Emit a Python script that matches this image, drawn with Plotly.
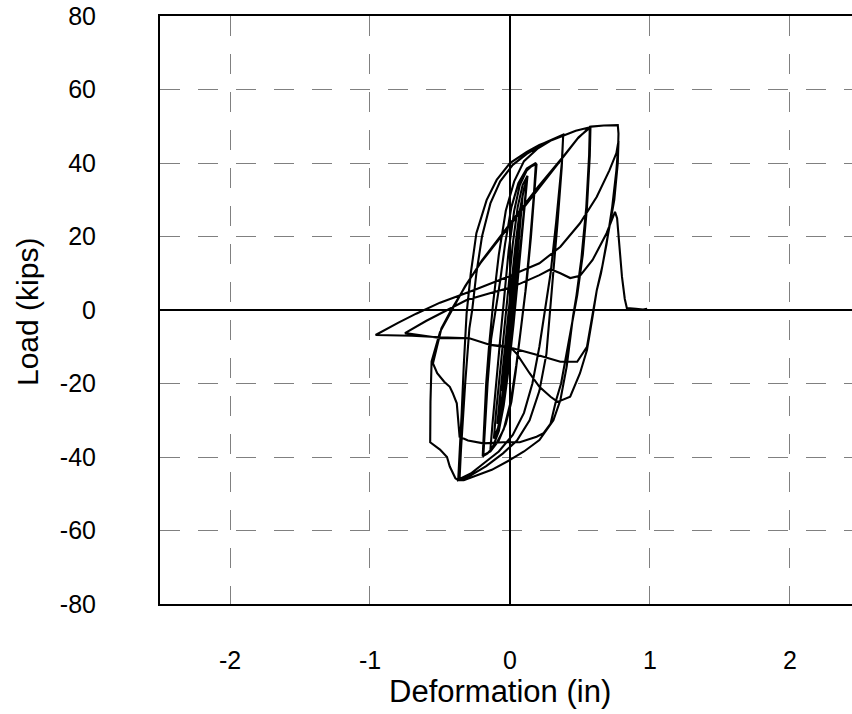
import plotly.graph_objects as go

# ---- data (deformation in inches, load in kips) ----
# A: small near-elastic cycles
A_defl = [0.000, 0.020, 0.040, 0.030, 0.010, -0.020, -0.030, -0.015, 0.010, 0.035, 0.055, 0.065,
          0.050, 0.025, -0.005, -0.035, -0.060, -0.050, -0.025, 0.005, 0.030, 0.055, 0.075, 0.090,
          0.075, 0.050, 0.020, -0.010, -0.040, -0.070, -0.090, -0.075, -0.050, -0.020, 0.010, 0.040,
          0.070, 0.100, 0.120, 0.105, 0.080, 0.050, 0.020, -0.015, -0.050, -0.085, -0.115, -0.100,
          -0.075, -0.045, -0.015, 0.020, 0.055, 0.090, 0.125, 0.110, 0.085, 0.055, 0.025, -0.010,
          -0.045, -0.080, -0.120, -0.140, -0.125, -0.100, -0.070, -0.040, -0.010, 0.030, 0.070,
          0.120, 0.150]
A_load = [0, 6, 12, 5, -3, -10, -12, -6, 2, 10, 18, 22,
          15, 5, -5, -14, -22, -17, -8, 3, 12, 22, 28, 31,
          24, 13, 0, -10, -20, -27, -31, -25, -15, -4, 7, 18,
          27, 33, 35.5, 29, 19, 8, -4, -15, -25, -32, -35, -28,
          -18, -6, 6, 18, 28, 34, 36.5, 30, 20, 8, -4, -16,
          -26, -33, -37, -38, -31, -20, -8, 4, 16, 27, 34,
          38, 39]

# B: +/-0.2 in cycles
B_defl = [0.190, 0.175, 0.150, 0.120, 0.090, 0.070, 0.040, 0.010, -0.030, -0.080, -0.140, -0.190,
          -0.178, -0.160, -0.135, -0.100, -0.070, -0.035, 0.010, 0.060, 0.120, 0.185, 0.170, 0.140,
          0.110, 0.075, 0.045, 0.005, -0.045, -0.100, -0.160, -0.195]
B_load = [39.8, 32, 20, 8, -2, -8, -17, -25, -31, -35.5, -38.5, -39.5,
          -32, -20, -8, 0, 8, 18, 28, 34.5, 38.5, 40, 31, 17,
          5, -6, -15, -25, -32.5, -36.5, -39, -39.8]

# C: +/-0.38 in cycles
C_defl = [-0.185, -0.170, -0.150, -0.120, -0.080, -0.030, 0.030, 0.100, 0.200, 0.300, 0.380,
          0.370, 0.330, 0.290, 0.250, 0.210, 0.160, 0.100, 0.020, -0.080, -0.180, -0.280, -0.360,
          -0.350, -0.320, -0.290, -0.270, -0.240, -0.200, -0.140, -0.070, 0.020, 0.120, 0.250, 0.380,
          0.370, 0.340, 0.310, 0.290, 0.260, 0.210, 0.140, 0.050, -0.050, -0.170, -0.280, -0.370]
C_load = [-32, -20, -10, 2, 15, 27, 35, 40.5, 44, 46.3, 47.5,
          40, 24, 10, 0, -10, -20, -28, -34, -38.5, -41.5, -44.5, -46,
          -38, -20, -5, 0, 10, 20, 29, 35, 39.5, 42.5, 45.5, 47.7,
          39, 24, 10, 0, -12, -22, -30, -35.5, -39, -42.5, -45, -46.3]

# D: 0.57 in cycles with fracture on the negative side
D1_defl = [-0.360, -0.345, -0.330, -0.310, -0.280, -0.240, -0.167, -0.095, 0.000, 0.120, 0.210,
           0.300, 0.380, 0.470, 0.570]
D1_load = [-40, -28, -15, -1, 10, 20.9, 29.9, 35.4, 40, 43, 44.9, 46.3, 47.6, 48.8, 49.7]
D2_defl = [0.565, 0.545, 0.510, 0.475, 0.450, 0.405, 0.360, 0.310, 0.210, 0.100, 0.000, -0.130,
           -0.260, -0.330, -0.370, -0.390, -0.430, -0.450, -0.500, -0.570, -0.568, -0.560]
D2_load = [42, 28, 14, 4, -1.8, -15.4, -24.5, -30, -35.4, -38.5, -40.8, -43.5,
           -45.4, -46.3, -46.3, -45.8, -42.6, -40, -38, -36, -25, -14]
D3_defl = [-0.500, -0.430, -0.320, -0.210, 0.000, 0.200, 0.380, 0.480, 0.575]
D3_load = [-6, -1, 6.5, 12.8, 23, 33, 41.6, 46.5, 50]
D4_defl = [0.570, 0.550, 0.520, 0.480, 0.440, 0.400, 0.365, 0.330, 0.290, 0.240, 0.190, 0.070,
           -0.050, -0.190, -0.300, -0.360, -0.370, -0.375, -0.380, -0.410, -0.430, -0.470, -0.520,
           -0.550]
D4_load = [42, 28, 15, 4, -4, -13, -20, -24.5, -30.9, -33.5, -34.5, -36,
           -36, -36.3, -35.5, -34.5, -30, -27, -25.4, -22.5, -20.9, -19.5, -17.2,
           -14.5]
D5_defl = [-0.490, -0.420, -0.310, -0.200, 0.000, 0.200, 0.390, 0.490, 0.580, 0.670, 0.770]
D5_load = [-5, 0, 7, 13.5, 23.5, 33.5, 42.2, 47, 49.9, 50.2, 50.3]

# E-H: pinched cycles after fracture, final failure
E_defl = [0.775, 0.772, 0.760, 0.730, 0.690, 0.650, 0.620, 0.590, 0.550, 0.500, 0.430, 0.340,
          0.290, 0.210, 0.140, 0.050, 0.000, -0.140, -0.290, -0.500, -0.700, -0.960]
E_load = [48, 44, 38, 28, 18, 10, 5.4, -1.8, -10.9, -17.2, -23.6, -25,
          -23.6, -20.9, -17.2, -12, -10, -9.5, -7.7, -7.4, -7.0, -6.8]
F_defl = [-0.900, -0.800, -0.670, -0.500, -0.260, -0.020, 0.210, 0.360, 0.500, 0.620, 0.710,
          0.760, 0.775]
F_load = [-5.5, -3.5, -1, 2, 5.4, 9, 12.7, 17.2, 23.6, 30.8, 38, 42.7, 46]
G_defl = [0.770, 0.745, 0.700, 0.660, 0.620, 0.580, 0.550, 0.480, 0.360, 0.190, 0.020, -0.140,
          -0.290, -0.500, -0.750]
G_load = [40, 30, 20, 12, 5.4, -3.6, -10, -14.1, -14.1, -12.2, -10.4, -9.5, -7.7, -7.6, -6.3]
H_defl = [-0.600, -0.450, -0.310, -0.150, 0.020, 0.210, 0.290, 0.360, 0.430, 0.500, 0.590,
          0.690, 0.730, 0.750, 0.765, 0.780, 0.800, 0.820, 0.835, 0.900, 0.950, 0.980]
H_load = [-3, 0, 2.7, 4.5, 6.3, 9.5, 11.1, 10, 8.7, 9.3, 13.6,
          20.9, 25, 26.7, 25, 18, 9, 3, 0.5, 0.3, 0.1, 0.3]

x_ticks = [-2, -1, 0, 1, 2]
x_tick_text = ["-2", "-1", "0", "1", "2"]
y_ticks = [-80, -60, -40, -20, 0, 20, 40, 60, 80]
y_tick_text = ["-80", "-60", "-40", "-20", "0", "20", "40", "60", "80"]

defl = (A_defl + B_defl + C_defl + D1_defl + D2_defl + D3_defl + D4_defl + D5_defl
        + E_defl + F_defl + G_defl + H_defl)
load = (A_load + B_load + C_load + D1_load + D2_load + D3_load + D4_load + D5_load
        + E_load + F_load + G_load + H_load)

FONT = "Liberation Sans, Arial, sans-serif"

fig = go.Figure()
fig.add_trace(go.Scatter(x=defl, y=load, mode="lines",
                         line=dict(color="black", width=2.1), showlegend=False,
                         hoverinfo="skip"))

fig.update_layout(
    width=852, height=714,
    margin=dict(l=160, r=0, t=16, b=110, autoexpand=False),
    paper_bgcolor="white", plot_bgcolor="white",
    font=dict(family=FONT, color="black", size=26),
    showlegend=False,
)
grid_style = dict(showgrid=True, gridcolor="#808080", gridwidth=1, griddash="20px,18px",
                  zeroline=True, zerolinecolor="black", zerolinewidth=2,
                  showline=True, linecolor="black", linewidth=2, ticks="", automargin=False,
                  ticklabeloverflow="allow",
                  tickfont=dict(family=FONT, size=25, color="black"))
fig.update_xaxes(range=[-2.5, 2.443], tickmode="array", tickvals=x_ticks, ticktext=x_tick_text,
                 mirror=True, ticklabelstandoff=33, **grid_style)
fig.update_yaxes(range=[-80, 80], tickmode="array", tickvals=y_ticks, ticktext=y_tick_text,
                 mirror=False, ticklabelstandoff=57, **grid_style)

fig.add_annotation(text="Deformation (in)", xref="paper", yref="paper",
                   x=(500 - 160) / 692, y=(604 - 691) / 588, xanchor="center", yanchor="middle",
                   showarrow=False, font=dict(family=FONT, size=31, color="black"))
fig.add_annotation(text="Load (kips)", xref="paper", yref="paper", textangle=-90,
                   x=(27 - 160) / 692, y=(604 - 312) / 588, xanchor="center", yanchor="middle",
                   showarrow=False, font=dict(family=FONT, size=30, color="black"))

# remove the default 8px page margin so the figure fills the 852x714 window exactly
fig.write_html("out.html", config={"displayModeBar": False, "staticPlot": True},
               post_script="document.body.style.margin='0';document.body.style.overflow='hidden';")
